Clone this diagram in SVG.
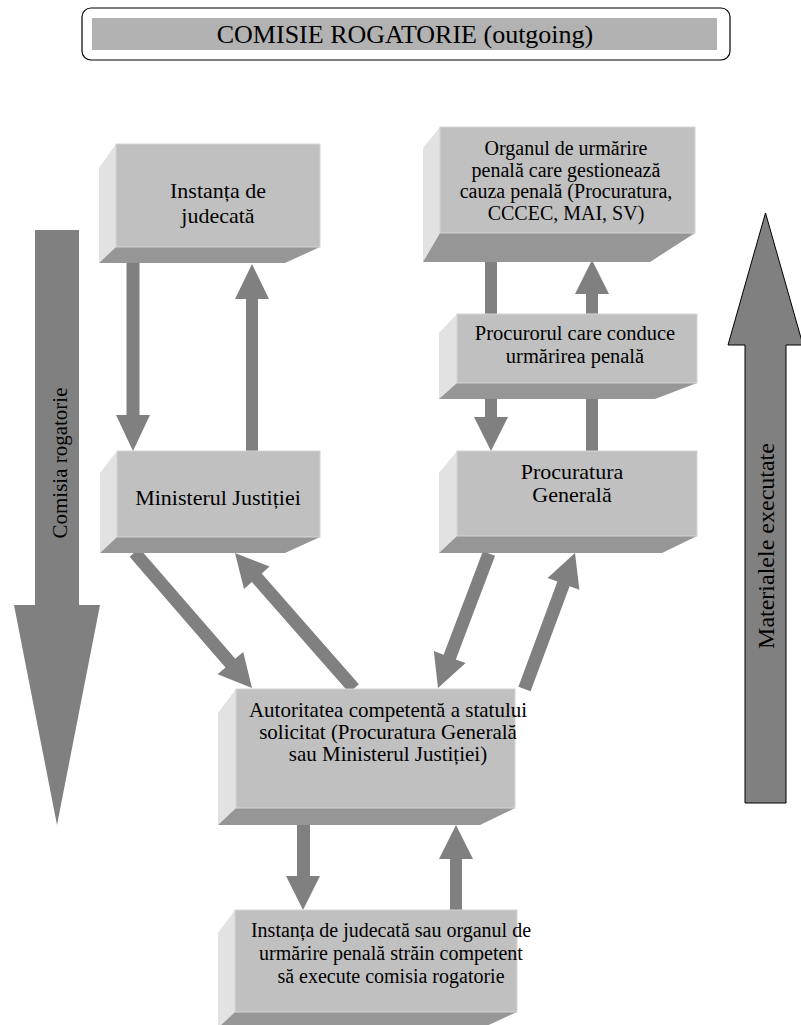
<svg xmlns="http://www.w3.org/2000/svg" width="801" height="1025" viewBox="0 0 801 1025">
<style>
.front{fill:#c0c0c0;stroke:#d4d4d4;stroke-width:1}
.side{fill:#e2e2e2}
.bot{fill:#969696}
.arr{fill:#808080}
.big{fill:#808080}
text{font-family:"Liberation Serif","Times New Roman",serif;fill:#000;text-anchor:middle}
</style>
<rect width="801" height="1025" fill="#fff"/>
<g id="title">
<rect x="82" y="8" width="648" height="52" rx="9" fill="#fff" stroke="#000" stroke-width="1.2"/>
<rect x="92" y="18" width="625" height="32" fill="#b2b2b2"/>
<text x="405" y="43" font-size="26">COMISIE ROGATORIE (outgoing)</text>
</g>
<g id="arrow-comisia">
<polygon class="big" points="35,230 79,230 79,605 100,605 57,825 14,605 35,605"/>
<text transform="translate(67,463) rotate(-90)" font-size="21">Comisia rogatorie</text>
</g>
<g id="arrow-materialele">
<polygon class="big" stroke="#000" stroke-width="1" points="745,803 786,803 786,345 803,345 765.5,213 728,345 745,345"/>
<text transform="translate(774,546) rotate(-90)" font-size="24">Materialele executate</text>
</g>
<g id="connectors">
<polygon class="arr" points="126.5,263 139.5,263 139.5,415 150,415 133,451 116,415 126.5,415"/>
<polygon class="arr" points="246,451 258,451 258,299 269,299 252,264 235,299 246,299"/>
<polygon class="arr" points="485,258 497,258 497,417 508,417 491,451 474,417 485,417"/>
<polygon class="arr" points="586,451 598,451 598,294 609,294 592,260 575,294 586,294"/>
<polygon class="arr" points="139.4,548.2 235.3,658.8 243.2,652.0 252,688 217.6,674.2 225.5,667.4 129.6,556.8"/>
<polygon class="arr" points="358.9,684.2 261.7,573.5 269.6,566.6 235,553 244.0,589.0 251.9,582.1 349.1,692.8"/>
<polygon class="arr" points="482.9,551.2 443.6,654.8 433.8,651.1 438,688 465.6,663.1 455.8,659.4 495.1,555.8"/>
<polygon class="arr" points="530.6,691.3 569.6,586.2 579.4,589.8 575,553 547.6,578.0 557.4,581.6 518.4,686.7"/>
<polygon class="arr" points="297,825 310,825 310,876 320,876 303,910 286,876 297,876"/>
<polygon class="arr" points="450,910 462,910 462,859 473,859 456,825 439,859 450,859"/>
</g>
<g id="instanta">
<polygon class="side" points="116,144 99,168 99,263 116,247"/>
<polygon class="bot" points="116,247 320,247 285,263 99,263"/>
<rect class="front" x="116" y="144" width="204" height="103"/>
<text x="218" y="198" font-size="22">Instanța de</text>
<text x="218" y="223" font-size="22">judecată</text>
</g>
<g id="organul">
<polygon class="side" points="440,127 423,148 423,262 440,233"/>
<polygon class="bot" points="440,233 695,233 650,262 423,262"/>
<rect class="front" x="440" y="127" width="255" height="106"/>
<text x="566" y="155" font-size="20">Organul de urmărire</text>
<text x="566" y="177" font-size="20">penală care gestionează</text>
<text x="566" y="198" font-size="20">cauza penală (Procuratura,</text>
<text x="566" y="220" font-size="20">CCCEC, MAI, SV)</text>
</g>
<g id="procurorul">
<polygon class="side" points="457,314 439,333 439,399 457,383"/>
<polygon class="bot" points="457,383 697,383 655,399 439,399"/>
<rect class="front" x="457" y="314" width="240" height="69"/>
<text x="575" y="340" font-size="20.5">Procurorul care conduce</text>
<text x="575" y="363" font-size="20.5">urmărirea penală</text>
</g>
<g id="ministerul">
<polygon class="side" points="117,451 100,473 100,553 117,537"/>
<polygon class="bot" points="117,537 320,537 285,553 100,553"/>
<rect class="front" x="117" y="451" width="203" height="86"/>
<text x="218" y="505" font-size="22">Ministerul Justiției</text>
</g>
<g id="procuratura">
<polygon class="side" points="457,451 439,473 439,553 457,536"/>
<polygon class="bot" points="457,536 697,536 662,553 439,553"/>
<rect class="front" x="457" y="451" width="240" height="85"/>
<text x="572" y="479" font-size="22">Procuratura</text>
<text x="572" y="502" font-size="22">Generală</text>
</g>
<g id="autoritatea">
<polygon class="side" points="236,689 218,713 218,825 236,808"/>
<polygon class="bot" points="236,808 515,808 480,825 218,825"/>
<rect class="front" x="236" y="689" width="279" height="119"/>
<text x="388" y="717" font-size="21">Autoritatea competentă a statului</text>
<text x="388" y="739" font-size="21">solicitat (Procuratura Generală</text>
<text x="388" y="761" font-size="21">sau Ministerul Justiției)</text>
</g>
<g id="instanta-straina">
<polygon class="side" points="235,910 218,933 218,1028 235,1012"/>
<polygon class="bot" points="235,1012 517,1012 482,1028 218,1028"/>
<rect class="front" x="235" y="910" width="282" height="102"/>
<text x="391" y="937" font-size="20">Instanța de judecată sau organul de</text>
<text x="391" y="960" font-size="20">urmărire penală străin competent</text>
<text x="391" y="983" font-size="20">să execute comisia rogatorie</text>
</g>
</svg>
